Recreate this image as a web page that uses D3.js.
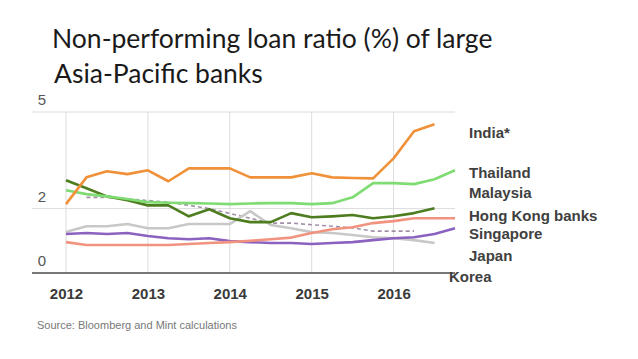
<!DOCTYPE html>
<html>
<head>
<meta charset="utf-8">
<script src="https://cdnjs.cloudflare.com/ajax/libs/d3/7.8.5/d3.min.js"></script>
<style>
  html, body { margin: 0; padding: 0; background: #fff; }
  svg { display: block; }
</style>
</head>
<body>
<div id="chart"></div>
<script>
'use strict';

// quarterly observation points (decimal years)
var quarters = [2012.0, 2012.25, 2012.5, 2012.75, 2013.0, 2013.25, 2013.5, 2013.75,
                2014.0, 2014.25, 2014.5, 2014.75, 2015.0, 2015.25, 2015.5, 2015.75,
                2016.0, 2016.25, 2016.5, 2016.75];

var yearTicks = [2012, 2013, 2014, 2015, 2016];
var valueTicks = [0, 2, 5];

// NPL ratio (%), null = no data
var india     = [2.14, 2.97, 3.16, 3.07, 3.19, 2.85, 3.25, 3.25, 3.25, 2.97, 2.97, 2.97, 3.10, 2.97, 2.95, 2.94, 3.56, 4.40, 4.62, null];
var thailand  = [2.57, 2.45, 2.38, 2.30, 2.20, 2.18, 2.17, 2.16, 2.14, 2.16, 2.17, 2.17, 2.14, 2.17, 2.35, 2.79, 2.79, 2.76, 2.91, 3.19];
var malaysia  = [2.88, 2.63, 2.38, 2.26, 2.10, 2.10, 1.76, 1.98, 1.70, 1.58, 1.58, 1.86, 1.73, 1.76, 1.80, 1.70, 1.76, 1.86, 2.01, null];
var hongKong  = [0.96, 0.87, 0.87, 0.87, 0.87, 0.87, 0.90, 0.93, 0.96, 1.00, 1.05, 1.10, 1.24, 1.36, 1.42, 1.55, 1.61, 1.70, 1.70, 1.70];
var singapore = [1.21, 1.24, 1.21, 1.24, 1.15, 1.08, 1.05, 1.08, 0.99, 0.96, 0.93, 0.93, 0.90, 0.93, 0.96, 1.02, 1.08, 1.11, 1.21, 1.39];
var japan     = [1.27, 1.45, 1.45, 1.52, 1.39, 1.39, 1.52, 1.52, 1.52, 1.92, 1.49, 1.39, 1.27, 1.24, 1.18, 1.11, 1.08, 1.02, 0.93, null];
var korea     = [null, 2.35, 2.35, 2.30, 2.25, 2.20, 2.10, 2.00, 1.85, 1.70, 1.55, 1.55, 1.50, 1.45, 1.40, 1.30, 1.30, 1.30, null, null];

var series = [
  {name: 'Korea',           values: korea,     color: '#a290a8', dash: '4,3', labelX: 449, labelY: 282},
  {name: 'Japan',           values: japan,     color: '#c8c8c8', labelX: 469, labelY: 261},
  {name: 'Singapore',       values: singapore, color: '#8b62c0', labelX: 469, labelY: 239},
  {name: 'Hong Kong banks', values: hongKong,  color: '#f2937f', labelX: 469, labelY: 221},
  {name: 'Malaysia',        values: malaysia,  color: '#4e7d1f', labelX: 469, labelY: 198},
  {name: 'Thailand',        values: thailand,  color: '#7fdc72', labelX: 469, labelY: 178},
  {name: 'India*',          values: india,     color: '#f09038', labelX: 469, labelY: 138}
];

var width = 638, height = 359;

var svg = d3.select('#chart').append('svg')
  .attr('width', width)
  .attr('height', height)
  .style('background', '#fff');

// title
svg.append('text')
  .attr('x', 52).attr('y', 48)
  .style('font-family', 'Lato, "Open Sans", sans-serif')
  .style('font-size', '26.5px')
  .style('fill', '#1a1a1a')
  .text('Non-performing loan ratio (%) of large');
svg.append('text')
  .attr('x', 54).attr('y', 83)
  .style('font-family', 'Lato, "Open Sans", sans-serif')
  .style('font-size', '26.5px')
  .style('fill', '#1a1a1a')
  .text('Asia-Pacific banks');

var x = d3.scaleLinear().domain([2011.585, 2016.75]).range([32, 455]);
var y = d3.scaleLinear().domain([0, 5]).range([273, 112]);

// vertical year gridlines
svg.append('g').selectAll('line').data(yearTicks)
  .enter().append('line')
  .attr('x1', function(d){ return x(d); })
  .attr('x2', function(d){ return x(d); })
  .attr('y1', y(5)).attr('y2', y(0))
  .attr('stroke', '#dcdcdc').attr('stroke-width', 1);

// horizontal gridlines
svg.append('g').selectAll('line').data(valueTicks.filter(function(d){ return d > 0; }))
  .enter().append('line')
  .attr('x1', 32).attr('x2', 455)
  .attr('y1', function(d){ return y(d); })
  .attr('y2', function(d){ return y(d); })
  .attr('stroke', '#dcdcdc').attr('stroke-width', 1);

// value labels sit just above their gridline
svg.append('g').selectAll('text').data(valueTicks)
  .enter().append('text')
  .attr('x', 42)
  .attr('y', function(d){ return y(d) - 7; })
  .attr('text-anchor', 'middle')
  .style('font-family', 'Arial, "Liberation Sans", sans-serif')
  .style('font-size', '15px')
  .style('fill', '#555')
  .text(function(d){ return d; });

// year axis
var xAxis = d3.axisBottom(x).tickValues(yearTicks).tickSize(0).tickPadding(15).tickFormat(d3.format('d'));
var gx = svg.append('g').attr('transform', 'translate(0,' + y(0) + ')').call(xAxis);
gx.select('.domain').remove();
gx.selectAll('text')
  .style('font-family', 'Arial, "Liberation Sans", sans-serif')
  .style('font-size', '15px')
  .style('font-weight', 'bold')
  .style('fill', '#3a3a3a');

// lines
var line = d3.line()
  .defined(function(d){ return d[1] != null; })
  .x(function(d){ return x(d[0]); })
  .y(function(d){ return y(d[1]); });

svg.append('g').selectAll('path').data(series)
  .enter().append('path')
  .attr('d', function(s){ return line(quarters.map(function(q, i){ return [q, s.values[i]]; })); })
  .attr('fill', 'none')
  .attr('stroke', function(s){ return s.color; })
  .attr('stroke-width', function(s){ return s.dash ? 1.6 : 2.6; })
  .attr('stroke-dasharray', function(s){ return s.dash || null; })
  .attr('stroke-linejoin', 'round');

// baseline
svg.append('line')
  .attr('x1', 32).attr('x2', 455)
  .attr('y1', y(0)).attr('y2', y(0))
  .attr('stroke', '#4a4a4a').attr('stroke-width', 1.5);

// series labels
svg.append('g').selectAll('text').data(series)
  .enter().append('text')
  .attr('x', function(s){ return s.labelX; })
  .attr('y', function(s){ return s.labelY; })
  .style('font-family', 'Arial, "Liberation Sans", sans-serif')
  .style('font-size', '15px')
  .style('font-weight', 'bold')
  .style('fill', '#404040')
  .text(function(s){ return s.name; });

// source note
svg.append('text')
  .attr('x', 37).attr('y', 329)
  .style('font-family', 'Arial, "Liberation Sans", sans-serif')
  .style('font-size', '11px')
  .style('fill', '#777')
  .text('Source: Bloomberg and Mint calculations');
</script>
</body>
</html>
